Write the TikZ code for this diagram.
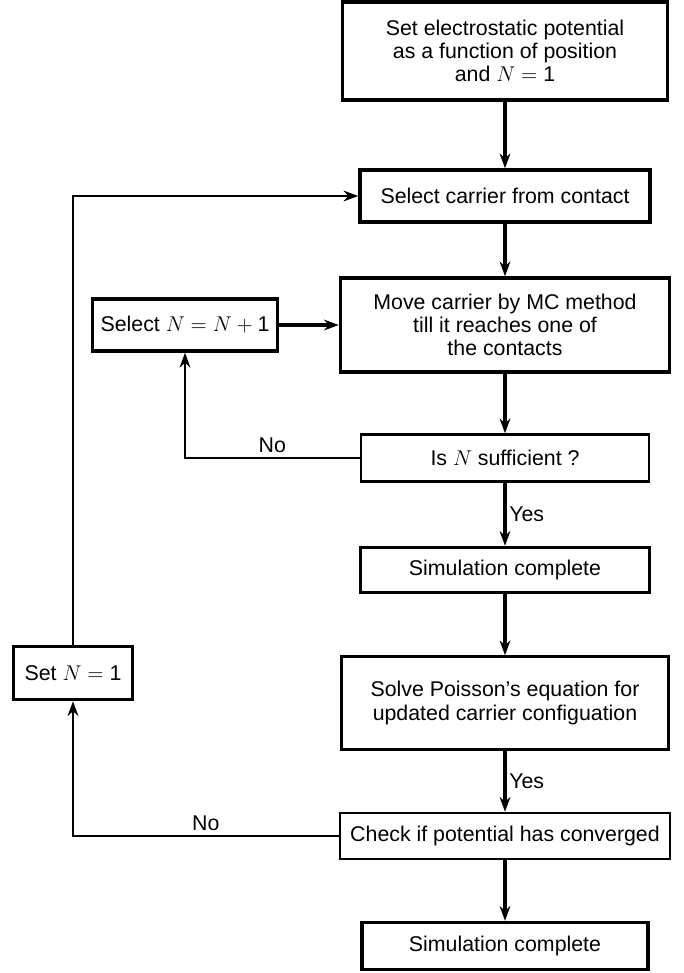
\RequirePackage{fix-cm}
\documentclass[tikz,border=0pt]{standalone}
\usepackage{amsmath}
\usepackage{fontspec}
\setmainfont{Liberation Sans}
\usetikzlibrary{arrows.meta}

\begin{document}
\begin{tikzpicture}
	[auto, x=0.75pt, y=-0.75pt,
	font=\fontsize{16}{17.5}\selectfont,
	stage/.style ={rectangle, draw=black, line width=2.6pt, align=center, inner sep=2pt},
	slim/.style ={line width=1.9pt},
	boxsize/.style 2 args ={minimum width=#1*0.75pt, minimum height=#2*0.75pt},
	line/.style ={draw, line width=2.4pt, -{Stealth[length=11pt, width=8pt, inset=3.5pt]}},
	loop/.style ={draw, line width=1.9pt, -{Stealth[length=11pt, width=8pt, inset=3.5pt]}}]
	\useasboundingbox (0,0) rectangle (683,973);
	\draw (505, 51) node[stage, boxsize={325}{98}] (init) {Set electrostatic potential\\as a function of position\\and $N = \text{1}$};
	\draw (505, 196) node[stage, boxsize={290}{52}] (pick) {Select carrier from contact};
	\draw (505, 325) node[stage, boxsize={329}{94}] (move) {Move carrier by MC method\\till it reaches one of\\the contacts};
	\draw (185, 325) node[stage, boxsize={185}{52}] (next) {Select $N = N + \text{1}$};
	\draw (505, 458) node[stage, slim, boxsize={288}{47}] (enough) {Is $N$ sufficient ?};
	\draw (505, 570) node[stage, boxsize={289}{45}] (done) {Simulation complete};
	\draw (505, 703) node[stage, slim, boxsize={327}{93}] (poisson) {Solve Poisson's equation for\\updated carrier configuation};
	\draw (505, 836) node[stage, slim, boxsize={330}{46}] (conv) {Check if potential has converged};
	\draw (505, 946) node[stage, boxsize={286}{47}] (final) {Simulation complete};
	\draw (73, 673) node[stage, boxsize={119}{53}] (reset) {Set $N = \text{1}$};
	\draw[line] (init) -- (pick);
	\draw[line] (pick) -- (move);
	\draw[line] (move) -- (enough);
	\draw[line] (enough) -- node[right, inner sep=2pt] {Yes} (done);
	\draw[line] (done) -- (poisson);
	\draw[line] (poisson) -- node[right, inner sep=2pt] {Yes} (conv);
	\draw[line] (conv) -- (final);
	\draw[line] (next) -- (move);
	\draw[loop] (enough) -| node[pos=0.25, above] {No} (next);
	\draw[loop] (conv) -| node[pos=0.25, above] {No} (reset);
	\draw[loop] (reset) |- (pick);
\end{tikzpicture}
\end{document}
